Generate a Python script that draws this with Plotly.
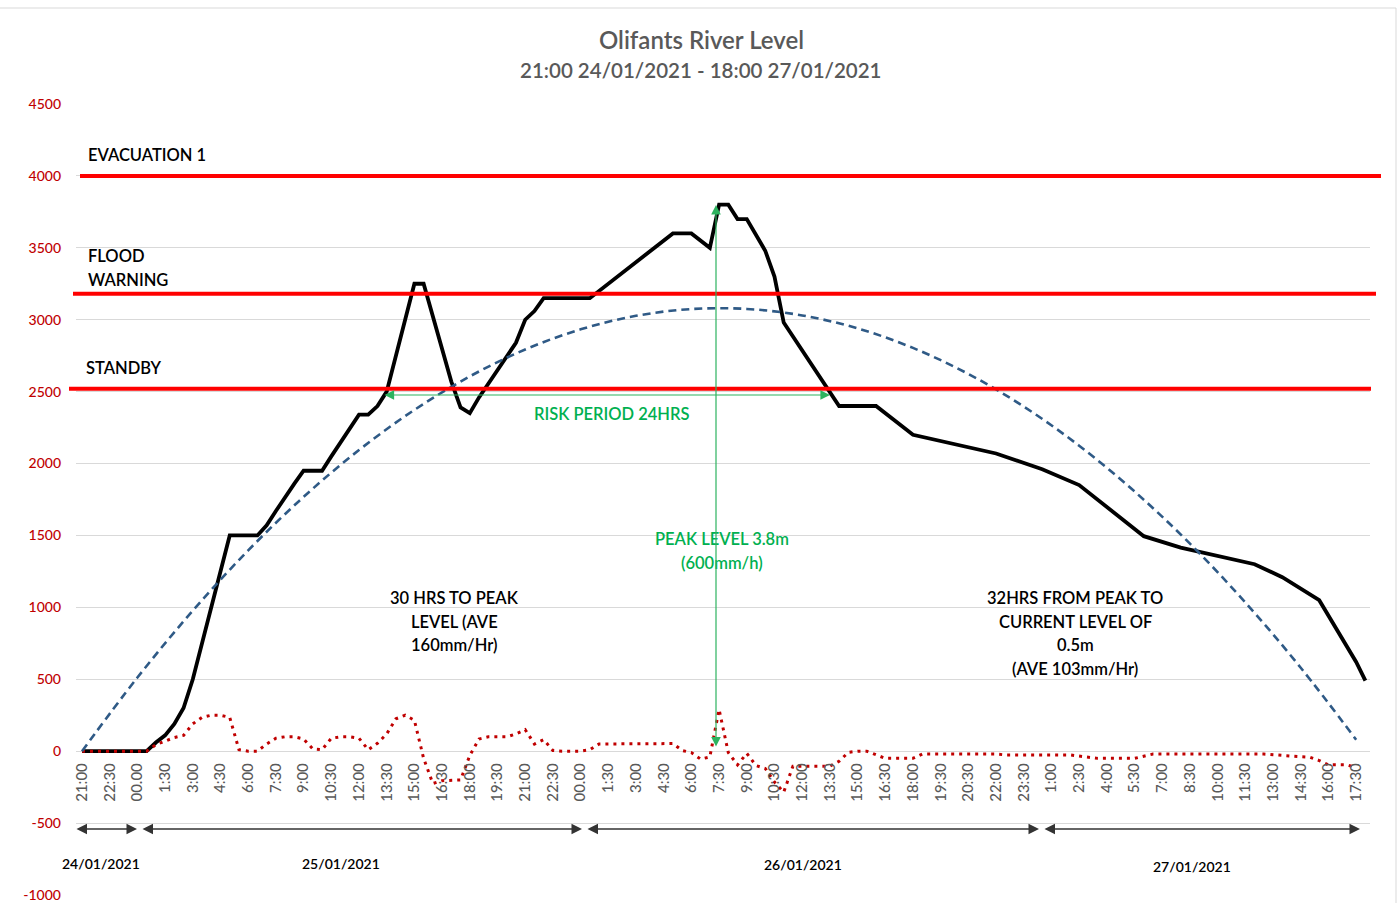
import plotly.graph_objects as go

# ---------------- data ----------------
# x positions are half-hour slots counted from 21:00 on 24/01/2021
tick_slots = list(range(0, 139, 3))
tick_labels = ["21:00", "22:30", "00.00", "1:30", "3:00", "4:30", "6:00", "7:30", "9:00",
               "10:30", "12:00", "13:30", "15:00", "16:30", "18:00", "19:30", "21:00",
               "22:30", "00.00", "1:30", "3:00", "4:30", "6:00", "7:30", "9:00", "10:30",
               "12:00", "13:30", "15:00", "16:30", "18:00", "19:30", "20:30", "22:00",
               "23:30", "1:00", "2:30", "4:00", "5:30", "7:00", "8:30", "10:00", "11:30",
               "13:00", "14:30", "16:00", "17:30"]

level_x = [0, 7, 8, 9, 10, 11, 12, 13, 14, 15, 16, 19, 20, 21, 22, 23, 24, 26, 27, 28, 29, 30,
           31, 32, 33, 34, 35, 36, 37, 38, 39, 40, 41, 42, 43, 44, 45, 46, 47, 48, 49, 50,
           55, 64, 66, 68, 69, 70, 71, 72, 73, 74, 75, 76, 82, 86, 90, 95, 99, 104, 108,
           115, 119, 127, 130, 134, 138, 139]
level_y = [0, 0, 60, 110, 190, 300, 500, 750, 1000, 1250, 1500, 1500, 1570, 1670, 1770, 1860,
           1950, 1950, 2050, 2150, 2250, 2340, 2340, 2400, 2500, 2750, 3020, 3250, 3250, 3020,
           2800, 2570, 2390, 2350, 2460, 2555, 2650, 2750, 2840, 3000, 3060, 3150, 3150, 3600,
           3600, 3500, 3800, 3800, 3700, 3700, 3590, 3480, 3300, 2980, 2400, 2400, 2200, 2125,
           2070, 1960, 1850, 1495, 1415, 1300, 1210, 1050, 620, 490]

rate_x = [0, 7, 8, 9, 10, 11, 12, 13, 14, 15, 16, 17, 18, 19, 20, 21, 22, 23, 24, 25, 26, 27,
          28, 29, 30, 31, 32, 33, 34, 35, 36, 37, 38, 39, 40, 41, 42, 43, 44, 45, 46, 47, 48,
          49, 50, 51, 52, 54, 55, 56, 64, 65, 66, 67, 68, 69, 70, 71, 72, 73, 74, 75, 76, 77,
          81, 82, 83, 84, 85, 86, 87, 90, 91, 99, 100, 107, 108, 109, 110, 114, 115, 116, 128,
          129, 131, 133, 134, 135, 137, 138]
rate_y = [0, 0, 45, 70, 95, 110, 190, 235, 250, 250, 235, 10, 0, 0, 50, 90, 100, 100, 85, 15,
          10, 90, 100, 100, 90, 10, 55, 120, 225, 250, 215, -50, -225, -205, -200, -200, -30,
          85, 100, 100, 100, 120, 150, 50, 80, 5, 0, 0, 10, 50, 53, 5, -10, -55, -40, 290, -10,
          -95, -15, -100, -120, -215, -285, -104, -104, -70, -8, 0, 0, -25, -50, -50, -20, -20,
          -26, -26, -35, -45, -50, -50, -36, -20, -20, -26, -34, -42, -65, -95, -95, -115]

trend_x = list(range(0, 139, 6))
trend_y = [0, 512, 977, 1396, 1768, 2094, 2373, 2606, 2793, 2933, 3027, 3074, 3075, 3030,
           2940, 2804, 2623, 2396, 2124, 1806, 1443, 1034, 580, 80]

threshold_names = ["EVACUATION 1", "FLOOD", "WARNING", "STANDBY"]
threshold_values = [4000, 3180, 2520]

day_labels = ["24/01/2021", "25/01/2021", "26/01/2021", "27/01/2021"]
y_ticks = [-1000, -500, 0, 500, 1000, 1500, 2000, 2500, 3000, 3500, 4000, 4500]
y_tick_text = ["-1000", "-500", "0", "500", "1000", "1500", "2000", "2500", "3000", "3500",
               "4000", "4500"]

# ---------------- geometry helpers (pixel -> paper / data) ----------------
L, R, T, B = 76, 30, 104, 8
W, H = 1400, 903
PW, PH = W - L - R, H - T - B
X0, X1 = -0.65, 139.5
Y0, Y1 = -1000, 4500


def xp(px):
    return (px - L) / PW


def yp(py):
    return (H - B - py) / PH


def xd(px):
    return X0 + (px - L) / PW * (X1 - X0)


def yd(py):
    return Y0 + (H - B - py) / PH * (Y1 - Y0)


FONT = "Lato, 'Open Sans', sans-serif"
GREEN = "#00B050"

fig = go.Figure()
fig.add_trace(go.Scatter(x=level_x, y=level_y, mode="lines",
                         line=dict(color="#000000", width=3.8), hoverinfo="skip"))
fig.add_trace(go.Scatter(x=rate_x, y=rate_y, mode="lines",
                         line=dict(color="#C00000", width=3, dash="3px,5px"), hoverinfo="skip"))
fig.add_trace(go.Scatter(x=trend_x, y=trend_y, mode="lines", line_shape="spline",
                         line=dict(color="#2F5A86", width=2.6, dash="8px,5px"), hoverinfo="skip"))

# threshold lines
extents = [(80, 1381), (73, 1376), (69, 1371)]
for val, (a, b) in zip(threshold_values, extents):
    fig.add_shape(type="line", xref="paper", yref="y", x0=xp(a), x1=xp(b), y0=val, y1=val,
                  line=dict(color="#FF0000", width=4), layer="above")

# chart border (top and right)
fig.add_shape(type="line", xref="paper", yref="paper", x0=xp(0), x1=xp(1396), y0=yp(8), y1=yp(8),
              line=dict(color="#D9D9D9", width=1))
fig.add_shape(type="line", xref="paper", yref="paper", x0=xp(1396), x1=xp(1396), y0=yp(8),
              y1=yp(903), line=dict(color="#D9D9D9", width=1))

ann = []


def text(s, px, py, color="#000000", size=16.5, anchor="center", weight=600):
    ann.append(dict(text=s, x=xp(px), y=yp(py), xref="paper", yref="paper", showarrow=False,
                    xanchor=anchor, yanchor="middle",
                    font=dict(family=FONT, size=size, color=color, weight=weight)))


# title
text("Olifants River Level", 701, 40, color="#595959", size=24)
text("21:00 24/01/2021 - 18:00 27/01/2021", 701, 70, color="#595959", size=20.5)

# threshold labels
text(threshold_names[0], 86, 155, anchor="left")
text(threshold_names[1], 86, 256, anchor="left")
text(threshold_names[2], 86, 280, anchor="left")
text(threshold_names[3], 84, 368, anchor="left")

# green annotations
text("RISK PERIOD 24HRS", 612, 414, color=GREEN)
text("PEAK LEVEL 3.8m", 722, 539, color=GREEN)
text("(600mm/h)", 722, 563, color=GREEN)

# black notes
for s, py in zip(["30 HRS TO PEAK", "LEVEL (AVE", "160mm/Hr)"], [598, 622, 645]):
    text(s, 454, py)
for s, py in zip(["32HRS FROM PEAK TO", "CURRENT LEVEL OF", "0.5m", "(AVE 103mm/Hr)"],
                 [598, 622, 645, 669]):
    text(s, 1075, py)

# day labels
for s, px, py in zip(day_labels, [101, 341, 803, 1192], [863, 863, 864, 866]):
    text(s, px, py, size=14, weight=600)

# green arrows
ann.append(dict(x=xd(830), y=yd(395), ax=xd(383), ay=yd(395), xref="x", yref="y", axref="x",
                ayref="y", text="", showarrow=True, arrowhead=2, startarrowhead=2,
                arrowside="end+start", arrowsize=1.6, startarrowsize=1.6, arrowwidth=1.2,
                arrowcolor="#2DB35F", standoff=0, startstandoff=0))
ann.append(dict(x=xd(716), y=yd(205), ax=xd(716), ay=yd(748), xref="x", yref="y", axref="x",
                ayref="y", text="", showarrow=True, arrowhead=2, startarrowhead=2,
                arrowside="end+start", arrowsize=1.6, startarrowsize=1.6, arrowwidth=1.2,
                arrowcolor="#2DB35F", standoff=0, startstandoff=0))

# day arrows
for a, b in [(75, 137), (141, 582), (586, 1039), (1043, 1360)]:
    ann.append(dict(x=xd(b), y=yd(829), ax=xd(a), ay=yd(829), xref="x", yref="y", axref="x",
                    ayref="y", text="", showarrow=True, arrowhead=2, startarrowhead=2,
                    arrowside="end+start", arrowsize=1.4, startarrowsize=1.4, arrowwidth=1.5,
                    arrowcolor="#333333", standoff=0, startstandoff=0))

fig.update_layout(
    width=W, height=H, margin=dict(l=L, r=R, t=T, b=B, autoexpand=False),
    paper_bgcolor="white", plot_bgcolor="white", showlegend=False,
    annotations=ann,
    xaxis=dict(range=[X0, X1], tickvals=tick_slots, ticktext=tick_labels, tickangle=-90,
               anchor="free", position=(0 - Y0) / (Y1 - Y0), showgrid=False, zeroline=False,
               showline=False, ticks="", automargin=False, ticklabelstandoff=8,
               tickfont=dict(family=FONT, size=15, color="#595959", weight=500)),
    yaxis=dict(range=[Y0, Y1], tickvals=y_ticks, ticktext=y_tick_text, showgrid=True,
               gridcolor="#D9D9D9", gridwidth=1, zeroline=False, showline=False, ticks="",
               ticklabelstandoff=14, automargin=False,
               tickfont=dict(family=FONT, size=14, color="#C00000", weight=500)),
)

fig.write_html("out.html", config={"displayModeBar": False},
               post_script="document.body.style.margin='0';document.body.style.overflow='hidden';")
